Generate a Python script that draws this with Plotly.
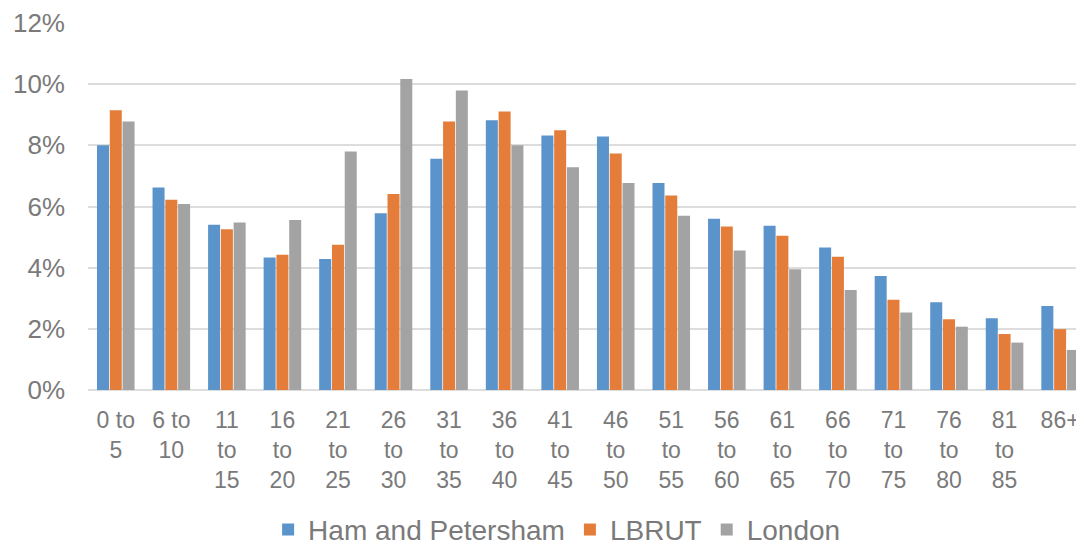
import plotly.graph_objects as go

categories = ["0 to<br>5", "6 to<br>10", "11<br>to<br>15", "16<br>to<br>20", "21<br>to<br>25",
              "26<br>to<br>30", "31<br>to<br>35", "36<br>to<br>40", "41<br>to<br>45", "46<br>to<br>50",
              "51<br>to<br>55", "56<br>to<br>60", "61<br>to<br>65", "66<br>to<br>70", "71<br>to<br>75",
              "76<br>to<br>80", "81<br>to<br>85", "86+"]

ham_petersham = [8.0, 6.62, 5.40, 4.33, 4.28, 5.78, 7.56, 8.82, 8.32, 8.29,
                 6.77, 5.60, 5.37, 4.66, 3.73, 2.87, 2.35, 2.75]
lbrut = [9.15, 6.22, 5.26, 4.42, 4.75, 6.41, 8.78, 9.11, 8.49, 7.73,
         6.36, 5.35, 5.04, 4.36, 2.95, 2.31, 1.83, 1.99]
london = [8.78, 6.08, 5.48, 5.56, 7.80, 10.17, 9.79, 8.00, 7.28, 6.77,
          5.70, 4.56, 3.95, 3.27, 2.53, 2.07, 1.55, 1.31]

y_ticks = [0, 2, 4, 6, 8, 10, 12]

series = [("Ham and Petersham", ham_petersham, "#5B93CB"),
          ("LBRUT", lbrut, "#E47D3A"),
          ("London", london, "#A3A3A3")]

fig = go.Figure()
for name, vals, color in series:
    fig.add_trace(go.Bar(x=categories, y=vals, name=name, marker_color=color,
                         marker_line_width=0))

font_family = "Liberation Sans, Arial, sans-serif"
# page body has an 8px default margin, so the figure is sized/offset to compensate
fig.update_layout(
    width=1076, height=540,
    margin=dict(l=80, r=0, t=15, b=158, autoexpand=False),
    plot_bgcolor="white", paper_bgcolor="white",
    barmode="group", bargap=0.31, bargroupgap=0.06,
    font=dict(family=font_family, color="#7A7A7A"),
    legend=dict(orientation="h", x=0.471, xanchor="center", y=-0.381, yanchor="middle",
                font=dict(size=28, color="#7A7A7A"), traceorder="normal"),
    showlegend=True,
)
fig.update_xaxes(type="category", range=[-0.5, 17.43], showgrid=False, automargin=False,
                 showline=False, ticks="", tickangle=0,
                 tickfont=dict(size=23, color="#7A7A7A"), ticklabelstandoff=14)
fig.update_yaxes(range=[0, 12], tickvals=y_ticks, ticktext=[f"{v}%" for v in y_ticks],
                 automargin=False,
                 showgrid=True, gridcolor="#DDDDDD", gridwidth=2, zeroline=True,
                 zerolinecolor="#DDDDDD", zerolinewidth=2, showline=False, ticks="",
                 tickfont=dict(size=26, color="#7A7A7A"), ticklabelstandoff=22)

fig.write_html("out.html")
